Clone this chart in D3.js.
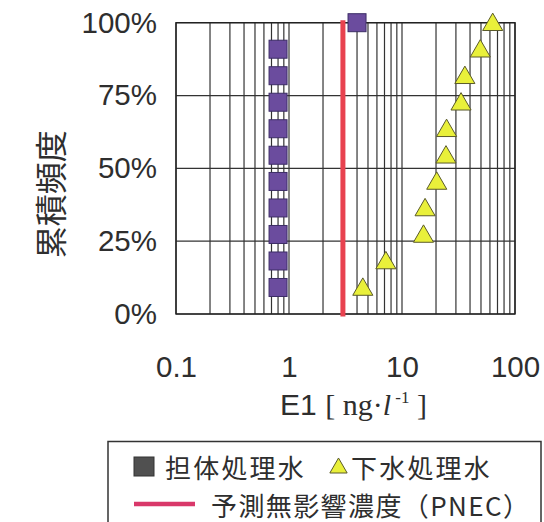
<!DOCTYPE html>
<html>
<head>
<meta charset="utf-8">
<script src="https://cdn.jsdelivr.net/npm/d3@7"></script>
<style>
  html, body { margin: 0; padding: 0; background: #fff; }
  svg { display: block; }
</style>
</head>
<body>
<svg id="chart" width="544" height="522"></svg>
<script>
// E1 concentrations [ng/l] and their cumulative frequency (%)
const carrierValues = [0.8, 0.8, 0.8, 0.8, 0.8, 0.8, 0.8, 0.8, 0.8, 0.8, 4.0];
const carrierCumPct = [9.1, 18.2, 27.3, 36.4, 45.5, 54.5, 63.6, 72.7, 81.8, 90.9, 100];
const sewageValues = [4.5, 7.2, 15.5, 16, 20.3, 24.5, 24.8, 33.3, 36, 49.3, 63.5];
const sewageCumPct = [9.1, 18.2, 27.3, 36.4, 45.5, 54.5, 63.6, 72.7, 81.8, 90.9, 100];
const pnecValue = 3.0;

const xTickValues = [0.1, 1, 10, 100];
const xTickLabels = ["0.1", "1", "10", "100"];
const yTickValues = [0, 25, 50, 75, 100];
const yTickLabels = ["0%", "25%", "50%", "75%", "100%"];

const seriesNames = ["担体処理水", "下水処理水"];
const pnecName = "予測無影響濃度（PNEC）";
const yTitle = "累積頻度";

const svg = d3.select("#chart");
const L = 176, R = 515, T = 22.7, B = 314;
const latin = "'Liberation Sans', Arial, sans-serif";
const serif = "'Liberation Serif', 'Times New Roman', serif";
const cjk = "'Noto Sans CJK JP', sans-serif";
const gridColor = "#333";
const textColor = "#2e2e2e";

const x = d3.scaleLog().domain([0.1, 100]).range([L, R]);
const y = d3.scaleLinear().domain([0, 100]).range([B, T]);

// grid
const grid = svg.append("g");
grid.selectAll("line.v").data(x.ticks()).join("line")
  .attr("x1", d => x(d)).attr("x2", d => x(d))
  .attr("y1", T).attr("y2", B)
  .attr("stroke", gridColor).attr("stroke-width", 1.2);
grid.selectAll("line.h").data(yTickValues).join("line")
  .attr("x1", L).attr("x2", R)
  .attr("y1", d => y(d)).attr("y2", d => y(d))
  .attr("stroke", gridColor).attr("stroke-width", 1.2);
grid.append("rect").attr("x", L).attr("y", T).attr("width", R - L).attr("height", B - T)
  .attr("fill", "none").attr("stroke", "#222").attr("stroke-width", 1.4);

// axes (labels only)
const yAxis = svg.append("g").attr("transform", `translate(${L},0)`)
  .call(d3.axisLeft(y).tickValues(yTickValues)
    .tickFormat((d, i) => yTickLabels[i]).tickSize(0).tickPadding(19));
const xAxis = svg.append("g").attr("transform", `translate(0,${B})`)
  .call(d3.axisBottom(x).tickValues(xTickValues)
    .tickFormat((d, i) => xTickLabels[i]).tickSize(0).tickPadding(42));
[yAxis, xAxis].forEach(a => {
  a.select(".domain").remove();
  a.selectAll("text").attr("font-family", latin).attr("font-size", 29.5).attr("fill", textColor);
});

// PNEC line
svg.append("line")
  .attr("x1", x(pnecValue)).attr("x2", x(pnecValue))
  .attr("y1", y(100)).attr("y2", y(0))
  .attr("stroke", "#e8424f").attr("stroke-width", 5).attr("stroke-linecap", "square");

// carrier-treated water: squares
const sq = 18;
svg.append("g").selectAll("rect").data(carrierValues.map((v, i) => [v, carrierCumPct[i]])).join("rect")
  .attr("x", d => x(d[0]) - sq / 2).attr("y", d => y(d[1]) - sq / 2)
  .attr("width", sq).attr("height", sq)
  .attr("fill", "#6b4c9e").attr("stroke", "#3c2d66").attr("stroke-width", 1);

// sewage-treated water: triangles
const tri = d3.symbol().type(d3.symbolTriangle).size(175);
svg.append("g").selectAll("path").data(sewageValues.map((v, i) => [v, sewageCumPct[i]])).join("path")
  .attr("d", tri)
  .attr("transform", d => `translate(${x(d[0])},${y(d[1]) + 2})`)
  .attr("fill", "#e9f03a").attr("stroke", "#5a5a2a").attr("stroke-width", 1);

// axis titles
svg.append("text")
  .attr("transform", `translate(48.5,${(T + B) / 2 + 26}) rotate(-90)`)
  .attr("text-anchor", "middle").attr("dominant-baseline", "central")
  .attr("font-family", cjk).attr("font-size", 32).attr("fill", textColor)
  .text(yTitle);

const xt = svg.append("text")
  .attr("x", (L + R) / 2 + 8).attr("y", 415)
  .attr("text-anchor", "middle").attr("fill", textColor).attr("font-size", 30);
xt.append("tspan").attr("font-family", latin).text("E1 ");
xt.append("tspan").attr("font-family", serif).text("[ ng·");
xt.append("tspan").attr("font-family", serif).attr("font-style", "italic").text("l");
xt.append("tspan").attr("font-family", serif).attr("font-size", 17)
  .attr("dy", -12).text(" -1");
xt.append("tspan").attr("font-family", serif).attr("dy", 12).text(" ]");

// legend
const lg = svg.append("g");
const row1 = 466, row2 = 504, lgFont = 26;
lg.append("rect").attr("x", 108).attr("y", 441.5).attr("width", 433).attr("height", 100)
  .attr("fill", "#fff").attr("stroke", "#333").attr("stroke-width", 1.5);
lg.append("rect").attr("x", 134).attr("y", row1 - 9).attr("width", 20).attr("height", 19)
  .attr("fill", "#505050").attr("stroke", "#333");
lg.append("text").attr("x", 165).attr("y", row1).attr("dominant-baseline", "central")
  .attr("font-family", cjk).attr("font-size", lgFont).attr("letter-spacing", 2.2)
  .attr("fill", textColor).text(seriesNames[0]);
lg.append("path").attr("d", d3.symbol().type(d3.symbolTriangle).size(130))
  .attr("transform", `translate(338.5,${row1 + 2})`)
  .attr("fill", "#e9f03a").attr("stroke", "#5a5a2a");
lg.append("text").attr("x", 351).attr("y", row1).attr("dominant-baseline", "central")
  .attr("font-family", cjk).attr("font-size", lgFont).attr("letter-spacing", 2.2)
  .attr("fill", textColor).text(seriesNames[1]);
lg.append("line").attr("x1", 134).attr("x2", 195).attr("y1", row2).attr("y2", row2)
  .attr("stroke", "#d9386a").attr("stroke-width", 4.5);
lg.append("text").attr("x", 211).attr("y", row2).attr("dominant-baseline", "central")
  .attr("font-family", cjk).attr("font-size", lgFont).attr("letter-spacing", 1.4)
  .attr("fill", textColor).text(pnecName);
</script>
</body>
</html>
